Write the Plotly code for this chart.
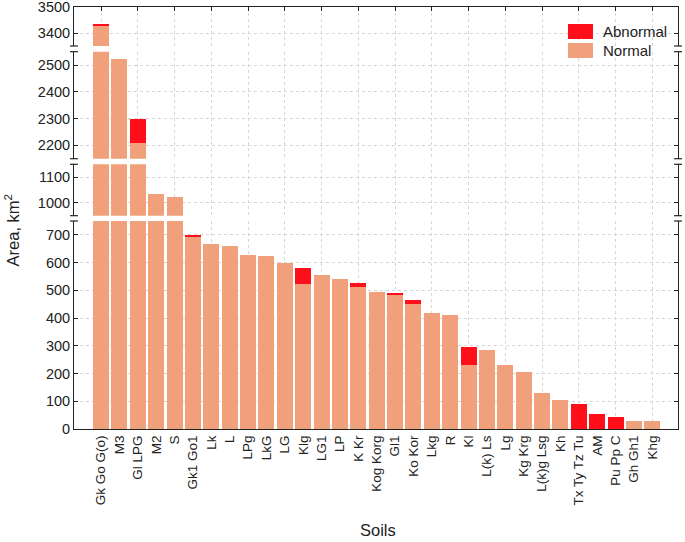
import plotly.graph_objects as go

categories = ["Gk Go G(o)", "M3", "Gl LPG", "M2", "S", "Gk1 Go1", "Lk", "L", "LPg", "LkG",
              "LG", "Klg", "LG1", "LP", "K Kr", "Kog Korg", "Gl1", "Ko Kor", "Lkg", "R",
              "Kl", "L(k) Ls", "Lg", "Kg Krg", "L(k)g Lsg", "Kh", "Tx Ty Tz Tu", "AM",
              "Pu Pp C", "Gh Gh1", "Khg"]
normal = [3428, 2523, 2210, 1033, 1022, 693, 667, 659, 628, 625,
          599, 524, 556, 540, 512, 494, 485, 452, 419, 411,
          230, 285, 229, 206, 129, 105, 0, 0, 0, 29, 29]
abnormal = [7, 0, 89, 0, 0, 6, 0, 0, 0, 0,
            0, 57, 0, 0, 16, 0, 7, 12, 0, 0,
            66, 0, 0, 0, 0, 0, 91, 54, 42, 0, 0]

panel_ranges = [[3350, 3500.5], [2150, 2550], [950, 1150], [0, 750]]
panel_dtick = [100, 100, 100, 100]
panel_domains = [[0.9076, 1.0], [0.6405, 0.8941], [0.5055, 0.6273], [0.0, 0.4929]]

NORMAL_C = "#F0A07B"
ABN_C = "#FF0F1A"
FONT = "Liberation Sans, Arial, sans-serif"
GRID = "#d6d6d6"

idx = list(range(len(categories)))
xr = [-1.47, 31.4]

fig = go.Figure()
for p in range(4):
    k = "" if p == 0 else str(p + 1)
    fig.add_trace(go.Bar(x=idx, y=normal, name="Normal", marker=dict(color=NORMAL_C, line=dict(width=0)),
                         xaxis="x" + k, yaxis="y" + k, showlegend=False))
    fig.add_trace(go.Bar(x=idx, y=abnormal, name="Abnormal", marker=dict(color=ABN_C, line=dict(width=0)),
                         xaxis="x" + k, yaxis="y" + k, showlegend=False))

layout = dict(
    width=685, height=542,
    margin=dict(l=74, r=7, t=7, b=113, autoexpand=False),
    paper_bgcolor="white", plot_bgcolor="white",
    barmode="stack", bargap=0.13,
    font=dict(family=FONT, size=14, color="#222"),
    showlegend=False,
)

even = [i for i in idx if i % 2 == 0]
for p in range(4):
    k = "" if p == 0 else str(p + 1)
    xa = dict(domain=[0, 1], anchor="y" + k, range=xr, tickmode="array", tickvals=idx,
              ticktext=categories, showgrid=False, zeroline=False, automargin=False,
              minor=dict(tickvals=even, showgrid=True, gridcolor=GRID, griddash="dot", gridwidth=1,
                         ticks=""),
              ticks="", showticklabels=False, showline=False)
    if p == 0:
        xa.update(showline=True, side="top", linecolor="#222", linewidth=1,
                  minor=dict(tickvals=even, showgrid=True, gridcolor=GRID, griddash="dot",
                             gridwidth=1, ticks="inside", ticklen=4, tickcolor="#222"))
    if p == 3:
        xa.update(showline=True, linecolor="#222", linewidth=1, showticklabels=True,
                  tickangle=-90, tickfont=dict(size=13.5, family=FONT, color="#222"))
    layout["xaxis" + k] = xa
    layout["yaxis" + k] = dict(domain=panel_domains[p], anchor="x" + k, range=panel_ranges[p],
                               dtick=panel_dtick[p], tick0=0, showgrid=True, gridcolor=GRID,
                               griddash="dot", zeroline=False, showline=True, linecolor="#222",
                               linewidth=1, mirror="ticks", ticks="inside", ticklen=4,
                               automargin=False, ticklabeloverflow="allow",
                               tickcolor="#222", tickfont=dict(size=14.5, family=FONT, color="#222"))

fig.update_layout(**layout)

# break caps on the axis ends between panels
cap = 0.0065
shapes = []
for p in range(4):
    lo, hi = panel_domains[p]
    ends = []
    if p > 0:
        ends.append(hi)
    if p < 3:
        ends.append(lo)
    for yv in ends:
        for xv in (0, 1):
            shapes.append(dict(type="line", xref="paper", yref="paper", x0=xv - cap, x1=xv + cap,
                               y0=yv, y1=yv, line=dict(color="#222", width=1.2)))

# legend (drawn manually for the wide swatches)
legend_items = [("Abnormal", ABN_C, 0.9597, 0.9242), ("Normal", NORMAL_C, 0.9147, 0.8791)]
for name, col, y1, y0 in legend_items:
    shapes.append(dict(type="rect", xref="paper", yref="paper", x0=0.8179, x1=0.8593,
                       y0=y0, y1=y1, fillcolor=col, line=dict(width=0), layer="above"))
    fig.add_annotation(text=name, xref="paper", yref="paper", x=0.8725, y=(y0 + y1) / 2,
                       xanchor="left", yanchor="middle", showarrow=False,
                       font=dict(size=15, family=FONT, color="#222"))
fig.update_layout(shapes=shapes)

fig.add_annotation(text="Area, km<sup>2</sup>", xref="paper", yref="paper", x=-0.103, y=0.47,
                   textangle=-90, showarrow=False, font=dict(size=16.5, family=FONT, color="#222"),
                   xanchor="center", yanchor="middle")
fig.add_annotation(text="Soils", xref="paper", yref="paper", x=0.503, y=-0.239,
                   showarrow=False, font=dict(size=16.5, family=FONT, color="#222"),
                   xanchor="center", yanchor="middle")

fig.write_html("out.html", config={"displayModeBar": False},
               post_script="document.body.style.margin='0px';")
